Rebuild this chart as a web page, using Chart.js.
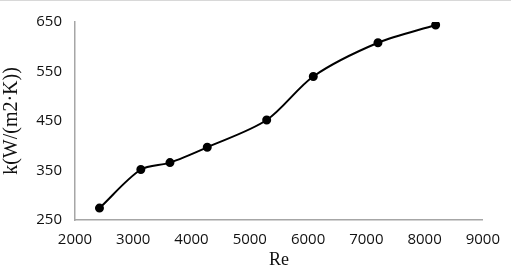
<!DOCTYPE html>
<html>
<head>
<meta charset="utf-8">
<script src="https://cdn.jsdelivr.net/npm/chart.js@4"></script>
<style>
  html, body { margin: 0; padding: 0; background: #fff; }
  #wrap { position: relative; width: 511px; height: 271px; }
  #wrap::before { content: ""; position: absolute; left: 0; top: 0; width: 511px; height: 1px; background: #d8d8d8; }
</style>
</head>
<body>
<div id="wrap"><canvas id="chart" width="511" height="271"></canvas></div>
<script>
// data
const reValues = [2420, 3130, 3630, 4270, 5290, 6090, 7200, 8190];
const kValues = [274, 352, 366, 397, 452, 540, 608, 644];
const xTicks = [2000, 3000, 4000, 5000, 6000, 7000, 8000, 9000];
const yTicks = [250, 350, 450, 550, 650];

const points = reValues.map((re, i) => ({ x: re, y: kValues[i] }));

const tickFont = { family: "Open Sans", size: 15 };
const titleFont = { family: "Liberation Serif", size: 20 };

const config = {
  type: "scatter",
  data: {
    datasets: [
      {
        data: points,
        showLine: true,
        tension: 0.3,
        borderColor: "#000",
        borderWidth: 2,
        backgroundColor: "#000",
        pointRadius: 3.5,
        pointHoverRadius: 3.5,
      },
    ],
  },
  options: {
    responsive: false,
    animation: false,
    layout: { padding: { top: 16, right: 22, left: 0, bottom: 0 } },
    plugins: { legend: { display: false }, tooltip: { enabled: false } },
    scales: {
      x: {
        type: "linear",
        min: xTicks[0],
        max: xTicks[xTicks.length - 1],
        afterBuildTicks: (scale) => {
          scale.ticks = xTicks.map((v) => ({ value: v }));
        },
        afterFit: (scale) => {
          scale.height = 51;
        },
        grid: { display: false, drawTicks: false },
        border: { display: true, color: "#a6a6a6", width: 1.5 },
        ticks: {
          color: "#111",
          font: tickFont,
          padding: 11,
          callback: (v) => String(v),
        },
        title: {
          display: true,
          text: "Re",
          color: "#111",
          font: { family: "Liberation Serif", size: 18 },
          padding: { top: 0, bottom: 0 },
        },
      },
      y: {
        type: "linear",
        min: yTicks[0],
        max: yTicks[yTicks.length - 1],
        afterBuildTicks: (scale) => {
          scale.ticks = yTicks.map((v) => ({ value: v }));
        },
        afterFit: (scale) => {
          scale.width = 75;
        },
        grid: { display: false, drawTicks: false },
        border: { display: true, color: "#a6a6a6", width: 1.5 },
        ticks: {
          color: "#111",
          font: tickFont,
          padding: 13,
          callback: (v) => String(v),
        },
        title: {
          display: true,
          text: "k(W/(m2·K))",
          color: "#111",
          font: titleFont,
          padding: { top: 0, bottom: 0 },
        },
      },
    },
  },
};

new Chart(document.getElementById("chart"), config);
</script>
</body>
</html>
